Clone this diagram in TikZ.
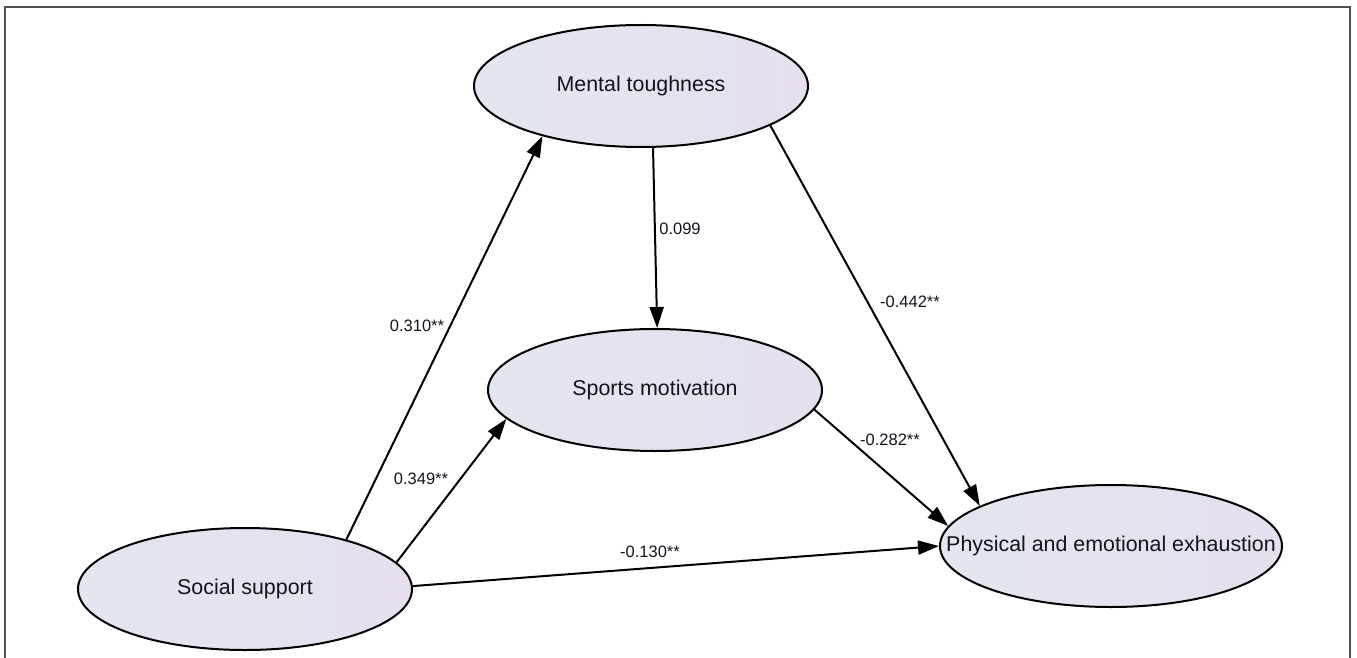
\documentclass[tikz,border=0pt]{standalone}
\usepackage{fontspec}
\setmainfont{Liberation Sans}
\usetikzlibrary{shapes.geometric,arrows.meta}
\definecolor{lavL}{RGB}{226,230,238}
\definecolor{lavR}{RGB}{231,223,238}
\definecolor{txt}{RGB}{20,20,30}
\definecolor{framec}{RGB}{80,80,80}
\tikzset{
  latent/.style={ellipse, draw=black, line width=2pt, left color=lavL, right color=lavR,
    inner xsep=-50pt, inner ysep=0pt, minimum width=334pt, minimum height=122pt, text=txt,
    font=\fontsize{21.4}{26}\selectfont},
  path/.style={line width=2pt, -{Triangle[length=21pt,width=14pt]}},
  coef/.style={text=txt, font=\fontsize{16.5}{20}\selectfont, inner sep=0pt}
}
\begin{document}
\begin{tikzpicture}[x=1pt,y=-1pt]
\useasboundingbox (0,0) rectangle (1357,658);
\draw[framec, line width=2pt] (5,658) -- (5,7) -- (1350,7) -- (1350,658);
\node[latent] (mt) at (641,86) {Mental toughness};
\node[latent] (sm) at (655,390) {Sports motivation};
\node[latent] (ss) at (245,589) {Social support};
\node[latent, minimum width=342pt] (pe) at (1111,546) {Physical and emotional exhaustion};
\draw[path] (ss.26) -- (mt.207);
\draw[path] (ss.10.4) -- (sm.191);
\draw[path] (ss.1) -- (pe.180);
\draw[path] (mt.281) -- (sm.88);
\draw[path] (mt.-17.3) -- (pe.163.6);
\draw[path] (sm.-7) -- (pe.173.7);
\node[coef] (l1) at (417,326) {0.310**};
\node[coef] (l2) at (421,479) {0.349**};
\node[coef] (l3) at (650,552) {-0.130**};
\node[coef] (l4) at (680,229) {0.099};
\node[coef] (l5) at (910,302) {-0.442**};
\node[coef] (l6) at (890,440) {-0.282**};
\end{tikzpicture}
\end{document}
